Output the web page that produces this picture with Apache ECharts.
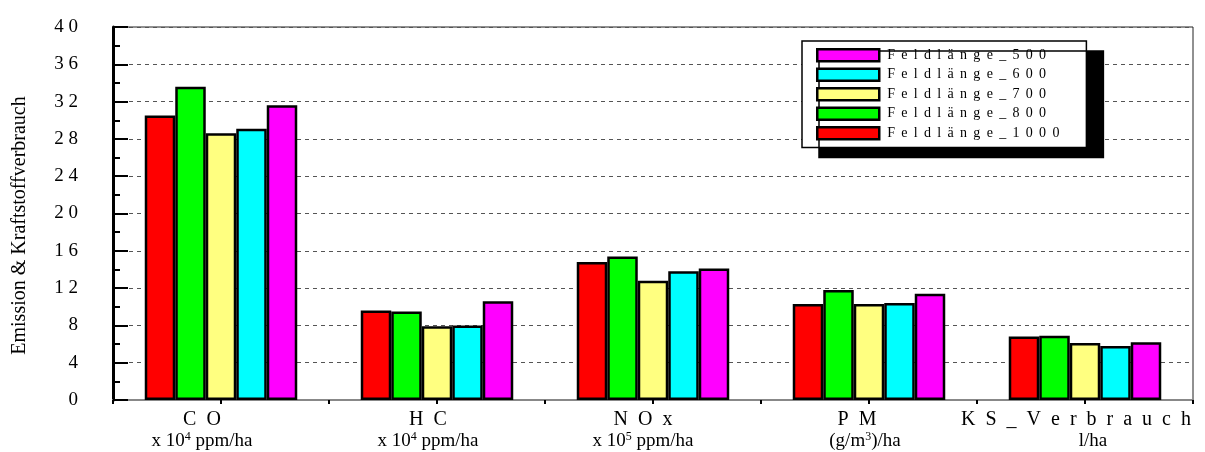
<!DOCTYPE html>
<html>
<head>
<meta charset="utf-8">
<script src="https://cdn.jsdelivr.net/npm/echarts@6/dist/echarts.min.js"></script>
<style>
  html, body { margin: 0; padding: 0; background: #fff; }
  #main { width: 1205px; height: 452px; }
</style>
</head>
<body>
<div id="main"></div>
<script>
// category titles and unit lines
const catTitle = ['CO', 'HC', 'NOx', 'PM', 'KS_Verbrauch'];
const unitPre = ['x 10', 'x 10', 'x 10', '(g/m', 'l/ha'];
const unitSup = ['4', '4', '5', '3', ''];
const unitPost = [' ppm/ha', ' ppm/ha', ' ppm/ha', ')/ha', ''];

// values per field length
const fl1000 = [30.5, 9.6, 14.8, 10.3, 6.8];
const fl800 = [33.6, 9.5, 15.4, 11.8, 6.9];
const fl700 = [28.6, 7.9, 12.8, 10.3, 6.1];
const fl600 = [29.1, 8.0, 13.8, 10.4, 5.8];
const fl500 = [31.6, 10.6, 14.1, 11.4, 6.2];

const seriesNames = ['Feldlänge_1000', 'Feldlänge_800', 'Feldlänge_700', 'Feldlänge_600', 'Feldlänge_500'];
const seriesData = [fl1000, fl800, fl700, fl600, fl500];
const colors = ['#ff0000', '#00ff00', '#ffff80', '#00ffff', '#ff00ff'];
const legendOrder = ['Feldlänge_500', 'Feldlänge_600', 'Feldlänge_700', 'Feldlänge_800', 'Feldlänge_1000'];

const FONT = 'Liberation Serif';
// small horizontal nudges of the two label lines (title, unit), px
const TITLE_SHIFT = [-19, -9, -10, -12, -9];
const UNIT_SHIFT = [-19, -9, -10, -4, 8];

function spaced(s, gap) {
  return s.split('').join(gap);
}

function pad(shift) {
  return shift < 0 ? [0, -2 * shift, 0, 0] : [0, 0, 0, 2 * shift];
}

const rich = {
  s: { fontFamily: FONT, fontSize: 12, color: '#000', lineHeight: 20, verticalAlign: 'top' },
  u: { fontFamily: FONT, fontSize: 19, color: '#000', lineHeight: 20 }
};
catTitle.forEach(function (c, i) {
  rich['t' + i] = { fontFamily: FONT, fontSize: 20, color: '#000', lineHeight: 22, padding: pad(TITLE_SHIFT[i]) };
  rich['e' + i] = { fontFamily: FONT, fontSize: 19, color: '#000', lineHeight: 20, padding: pad(UNIT_SHIFT[i]) };
});

const chart = echarts.init(document.getElementById('main'));

const option = {
  backgroundColor: '#fff',
  animation: false,
  color: colors,
  grid: {
    left: 113,
    right: 12,
    top: 27,
    bottom: 52,
    outerBoundsMode: 'none',
    containLabel: false,
    show: true,
    borderColor: '#222',
    borderWidth: 1
  },
  legend: {
    orient: 'vertical',
    left: 802,
    top: 41,
    data: legendOrder,
    icon: 'rect',
    itemWidth: 62,
    itemHeight: 12,
    itemGap: 5,
    padding: [7, 27, 7, 14],
    backgroundColor: '#fff',
    borderColor: '#000',
    borderWidth: 1.5,
    shadowColor: '#000',
    shadowBlur: 0,
    shadowOffsetX: 17,
    shadowOffsetY: 10,
    itemStyle: { borderColor: '#000', borderWidth: 2.5 },
    textStyle: { fontFamily: FONT, fontSize: 14, color: '#000', padding: [0, 0, 0, 3] },
    formatter: function (name) { return spaced(name, ' \u2009'); }
  },
  xAxis: [{
    type: 'category',
    data: catTitle,
    axisLine: { lineStyle: { color: '#888', width: 2 } },
    axisTick: { show: true, length: 4, lineStyle: { color: '#000', width: 2 } },
    axisLabel: {
      margin: 9,
      interval: 0,
      hideOverlap: false,
      formatter: function (v, i) {
        const t = '{t' + i + '|' + spaced(v, '  ') + '}';
        let u;
        if (unitSup[i]) {
          u = '{u|' + unitPre[i] + '}{s|' + unitSup[i] + '}{e' + i + '|' + unitPost[i] + '}';
        } else {
          u = '{e' + i + '|' + unitPre[i] + '}';
        }
        return t + '\n' + u;
      },
      rich: rich
    }
  }, {
    type: 'category',
    data: catTitle,
    position: 'bottom',
    axisLine: { show: false },
    axisTick: { show: true, alignWithLabel: true, length: 4, lineStyle: { color: '#000', width: 2 } },
    axisLabel: { show: false }
  }],
  yAxis: {
    type: 'value',
    min: 0,
    max: 40,
    interval: 4,
    name: 'Emission & Kraftstoffverbrauch',
    nameLocation: 'middle',
    nameGap: 83,
    nameTextStyle: { fontFamily: FONT, fontSize: 20, color: '#000', padding: [0, 24, 0, 0] },
    axisLine: { show: true, lineStyle: { color: '#000', width: 3 } },
    axisTick: { show: true, inside: true, length: 15, lineStyle: { color: '#000', width: 2 } },
    minorTick: { show: true, splitNumber: 2, length: 7, lineStyle: { color: '#000', width: 2 } },
    axisLabel: {
      margin: 35,
      fontFamily: FONT,
      fontSize: 19,
      color: '#000',
      formatter: function (v) { return spaced(String(v), ' '); }
    },
    splitLine: {
      show: true,
      lineStyle: { color: '#555', width: 1, type: [4, 4] }
    }
  },
  series: seriesNames.map(function (name, k) {
    return {
      name: name,
      type: 'bar',
      data: seriesData[k],
      barWidth: 30.5,
      barGap: '0%',
      itemStyle: { color: colors[k], borderColor: '#000', borderWidth: 2.5 }
    };
  })
};

chart.setOption(option);
</script>
</body>
</html>
